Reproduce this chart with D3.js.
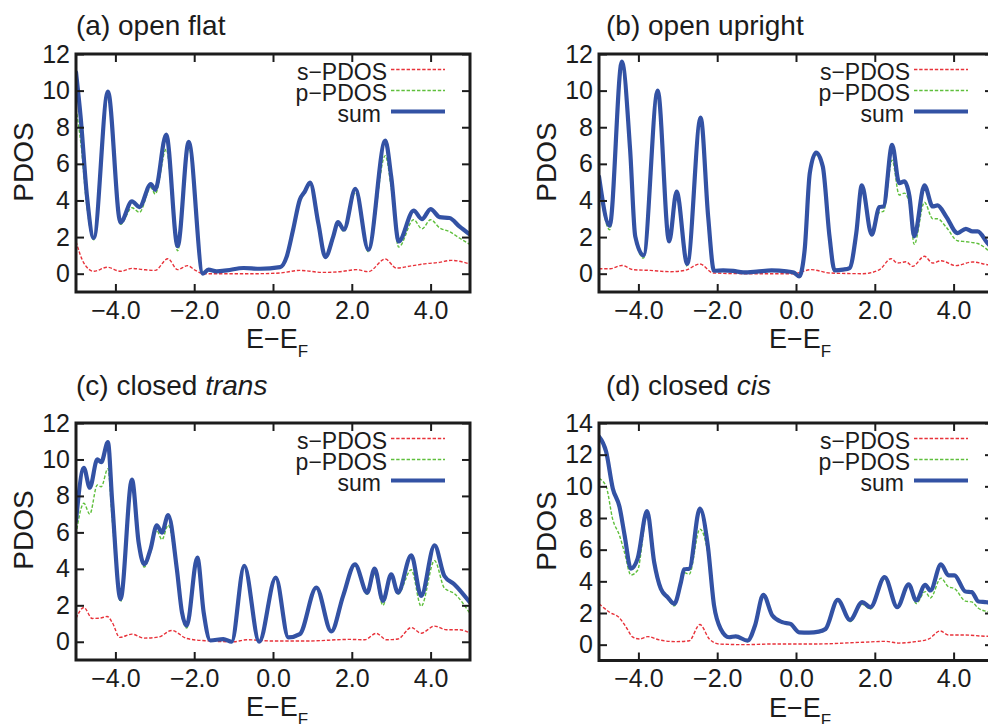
<!DOCTYPE html>
<html><head><meta charset="utf-8">
<script src="https://cdn.jsdelivr.net/npm/d3@7"></script>
<style>
body{margin:0;background:#fff}
svg{display:block}
text{font-family:"Liberation Sans",Arial,Helvetica,sans-serif;fill:#1c1c1c}
</style>
</head><body>
<svg id="chart" width="988" height="724"></svg>
<script>
// ---------- data ----------
const xTicks = [-4, -2, 0, 2, 4];
const yTicks12 = [0, 2, 4, 6, 8, 10, 12];
const yTicks14 = [0, 2, 4, 6, 8, 10, 12, 14];
const seriesNames = ["s\u2212PDOS", "p\u2212PDOS", "sum"];

// (a) open flat
const aE   = [-5.0,-4.88,-4.72,-4.55,-4.19,-3.87,-3.58,-3.39,-3.10,-2.99,-2.71,-2.42,-2.14,-1.78,-1.64,-1.43,-1.17,-0.75,-0.33,0.18,0.35,0.51,0.68,0.81,0.94,1.15,1.33,1.53,1.65,1.80,2.09,2.42,2.85,3.0,3.19,3.57,3.78,4.0,4.23,4.48,4.73,5.0];
const aSum = [11.0,8.5,4.2,1.95,9.95,2.8,3.95,3.64,4.9,4.58,7.6,1.5,7.2,0.0,0.22,0.13,0.18,0.31,0.27,0.36,0.95,2.4,4.04,4.5,4.98,2.76,0.91,2.04,2.82,2.4,4.64,1.31,7.27,5.3,1.76,3.44,2.98,3.53,3.09,3.04,2.58,2.13];
const aP   = [9.0,7.2,3.6,1.85,9.7,2.7,3.6,3.35,4.7,4.35,6.8,1.25,6.9,0.0,0.2,0.12,0.16,0.28,0.25,0.32,0.85,2.25,3.9,4.4,4.85,2.65,0.85,1.95,2.7,2.3,4.45,1.2,6.45,4.7,1.45,2.95,2.45,2.95,2.5,2.3,1.95,1.6];
const aSE  = [-5.0,-4.8,-4.55,-4.21,-3.87,-3.58,-3.28,-2.99,-2.67,-2.42,-2.17,-1.97,-1.76,-1.26,-0.41,0.18,0.68,1.27,1.7,2.12,2.42,2.85,3.13,3.55,3.89,4.23,4.52,5.0];
const aS   = [1.76,0.58,0.13,0.35,0.13,0.29,0.22,0.18,0.82,0.22,0.44,0.18,0.0,0.0,0.0,0.04,0.18,0.07,0.11,0.22,0.11,0.8,0.31,0.44,0.55,0.62,0.73,0.53];

// (b) open upright
const bE   = [-5.0,-4.73,-4.42,-4.21,-4.08,-3.87,-3.51,-3.22,-3.03,-2.76,-2.42,-2.23,-2.08,-1.85,-1.59,-1.34,-1.0,-0.62,-0.24,-0.06,0.08,0.22,0.35,0.51,0.68,0.85,0.98,1.19,1.36,1.53,1.67,1.92,2.12,2.22,2.44,2.62,2.75,2.88,3.0,3.26,3.47,3.59,3.81,4.1,4.31,4.48,4.61,4.86,5.0];
const bSum = [5.3,2.62,11.58,6.76,2.04,1.0,10.0,1.76,4.49,0.53,8.53,3.13,0.16,0.18,0.15,0.07,0.11,0.18,0.13,0.07,-0.15,1.31,5.49,6.62,5.85,2.04,0.18,0.22,0.31,2.22,4.82,2.13,3.64,3.67,7.04,4.95,5.04,4.22,2.04,4.82,3.67,3.73,3.13,2.22,2.45,2.31,2.31,1.67,1.35];
const bP   = [5.0,2.4,11.3,6.6,1.95,0.85,9.8,1.7,4.4,0.4,8.3,3.0,0.14,0.16,0.13,0.06,0.1,0.16,0.11,0.06,-0.15,1.25,5.35,6.5,5.75,2.0,0.16,0.2,0.28,2.1,4.75,2.05,3.35,3.4,6.2,4.3,4.4,3.8,1.6,3.9,3.0,3.0,2.55,1.8,1.75,1.7,1.65,1.3,1.0];
const bSE  = [-5.0,-4.72,-4.42,-4.13,-3.7,-3.2,-2.82,-2.44,-2.1,-1.26,-0.08,0.39,0.85,1.7,2.12,2.41,2.58,2.79,2.96,3.26,3.47,3.68,4.06,4.48,4.86,5.0];
const bS   = [0.27,0.27,0.45,0.22,0.18,0.11,0.18,0.53,0.04,0.0,0.0,0.22,0.04,0.0,0.22,0.82,0.58,0.65,0.4,0.95,0.58,0.71,0.44,0.64,0.49,0.45];

// (c) closed trans
const cE   = [-5.0,-4.8,-4.65,-4.46,-4.36,-4.19,-4.08,-3.87,-3.58,-3.41,-3.27,-3.11,-2.95,-2.82,-2.66,-2.44,-2.31,-2.19,-1.92,-1.76,-1.59,-1.26,-1.05,-0.73,-0.35,0.07,0.39,0.68,1.1,1.48,1.78,2.08,2.39,2.58,2.79,3.0,3.17,3.51,3.76,4.1,4.35,4.6,5.0];
const cSum = [6.62,9.54,8.45,10.0,9.85,10.95,7.63,2.34,8.9,5.44,4.25,5.07,6.39,5.99,6.95,3.98,1.61,0.88,4.62,1.61,0.07,0.15,0.0,4.16,0.0,3.52,0.24,0.42,2.97,0.57,2.52,4.25,2.7,4.01,2.24,3.7,2.7,4.74,2.52,5.29,3.61,3.16,2.15];
const cP   = [5.9,7.6,7.0,8.6,8.5,9.5,6.7,2.2,8.7,5.3,4.1,4.9,6.1,5.6,6.4,3.75,1.4,0.75,4.5,1.55,0.05,0.13,0.0,4.1,0.0,3.48,0.2,0.38,2.93,0.53,2.45,4.15,2.6,3.7,2.0,3.5,2.6,3.95,1.95,4.45,2.95,2.65,1.55];
const cSE  = [-5.0,-4.8,-4.59,-4.38,-4.21,-4.08,-3.89,-3.58,-3.28,-2.9,-2.57,-2.19,-1.68,-1.0,-0.67,0.01,0.85,1.95,2.33,2.62,2.88,3.17,3.51,3.76,4.1,4.4,4.73,5.0];
const cS   = [1.28,1.88,1.28,1.3,1.39,1.06,0.24,0.42,0.2,0.26,0.62,0.18,0.05,0.0,0.11,0.04,0.04,0.13,0.11,0.46,0.11,0.15,0.78,0.47,0.86,0.66,0.66,0.47];

// (d) closed cis
const dE   = [-5.0,-4.82,-4.65,-4.48,-4.35,-4.19,-4.02,-3.78,-3.6,-3.43,-3.26,-3.09,-2.92,-2.84,-2.71,-2.44,-2.24,-2.08,-1.91,-1.7,-1.53,-1.23,-1.04,-0.83,-0.6,-0.35,-0.14,0.08,0.33,0.58,0.75,1.06,1.37,1.68,1.89,2.25,2.57,2.86,3.05,3.28,3.41,3.68,3.87,4.02,4.3,4.46,4.63,4.84,5.0];
const dSum = [13.15,12.2,9.87,8.71,6.91,4.8,5.43,8.44,5.22,3.53,3.0,2.58,3.95,4.76,4.8,8.6,6.28,2.47,0.99,0.47,0.53,0.25,1.21,3.15,1.84,1.42,1.31,0.78,0.76,0.82,0.99,2.83,1.56,2.69,2.37,4.27,2.37,3.81,2.79,3.78,3.42,5.07,4.38,4.38,3.36,3.32,2.73,2.68,2.6];
const dP   = [10.5,10.0,7.9,6.9,5.8,4.4,4.7,8.2,5.0,3.4,2.9,2.45,3.8,4.55,4.45,7.3,5.8,2.3,0.95,0.45,0.5,0.24,1.18,3.1,1.8,1.38,1.27,0.74,0.72,0.77,0.93,2.75,1.45,2.55,2.25,4.15,2.3,3.7,2.6,3.35,2.95,4.2,3.65,3.55,2.75,2.7,2.3,2.1,2.05];
const dSE  = [-5.0,-4.73,-4.48,-4.31,-4.14,-3.97,-3.76,-3.47,-3.05,-2.71,-2.44,-2.2,-1.95,-1.27,-0.68,0.41,1.68,2.27,2.61,3.03,3.37,3.66,3.87,4.3,4.84,5.0];
const dS   = [2.58,2.05,1.69,1.1,0.47,0.36,0.51,0.3,0.19,0.25,1.27,0.36,0.04,0.0,0.04,0.04,0.15,0.21,0.1,0.19,0.36,0.87,0.61,0.61,0.53,0.55];

// ---------- layout / style ----------
const panels = [
  {id:"a", title:"(a) open flat", ital:"", E:aE, sum:aSum, p:aP, sE:aSE, s:aS, yMax:12, yTicks:yTicks12, left:76,  top:54,  bottom:292, titleY:35,  ylabY:162},
  {id:"b", title:"(b) open upright", ital:"", E:bE, sum:bSum, p:bP, sE:bSE, s:bS, yMax:12, yTicks:yTicks12, left:599, top:54,  bottom:292, titleY:35,  ylabY:162},
  {id:"c", title:"(c) closed ", ital:"trans", E:cE, sum:cSum, p:cP, sE:cSE, s:cS, yMax:12, yTicks:yTicks12, left:76,  top:423, bottom:660, titleY:395, ylabY:530},
  {id:"d", title:"(d) closed ", ital:"cis", E:dE, sum:dSum, p:dP, sE:dSE, s:dS, yMax:14, yTicks:yTicks14, left:599, top:423, bottom:660.5, titleY:395, ylabY:531}
];
const W = 394;
const colS = "#e8323a", colP = "#5fbf3c", colSum = "#3352a4";

const svg = d3.select("#chart");
const fmtX = d3.format(".1f");

panels.forEach(pn => {
  const x = d3.scaleLinear().domain([-5, 5]).range([pn.left, pn.left + W]);
  const y = d3.scaleLinear().domain([-1, pn.yMax]).range([pn.bottom, pn.top]);
  const g = svg.append("g");

  g.append("clipPath").attr("id", "clip-" + pn.id)
    .append("rect").attr("x", pn.left).attr("y", pn.top)
    .attr("width", W).attr("height", pn.bottom - pn.top);

  const line = d3.line().x(d => x(d[0])).y(d => y(d[1])).curve(d3.curveMonotoneX);
  const plot = g.append("g").attr("clip-path", "url(#clip-" + pn.id + ")");

  plot.append("path").datum(d3.zip(pn.sE, pn.s)).attr("d", line)
    .attr("fill", "none").attr("stroke", colS).attr("stroke-width", 1.4).attr("stroke-dasharray", "3.4,1.8");
  plot.append("path").datum(d3.zip(pn.E, pn.p)).attr("d", line)
    .attr("fill", "none").attr("stroke", colP).attr("stroke-width", 1.4).attr("stroke-dasharray", "3.4,1.8");
  plot.append("path").datum(d3.zip(pn.E, pn.sum)).attr("d", line)
    .attr("fill", "none").attr("stroke", colSum).attr("stroke-width", 4.2)
    .attr("stroke-linejoin", "round").attr("stroke-linecap", "round");

  // axes (ticks inward, mirrored)
  const tickLen = 8;
  const ax = [
    g.append("g").attr("transform", `translate(0,${pn.bottom})`)
      .call(d3.axisBottom(x).tickValues(xTicks).tickFormat(fmtX).tickSize(-tickLen).tickPadding(9)),
    g.append("g").attr("transform", `translate(0,${pn.top})`)
      .call(d3.axisTop(x).tickValues(xTicks).tickFormat("").tickSize(-tickLen)),
    g.append("g").attr("transform", `translate(${pn.left},0)`)
      .call(d3.axisLeft(y).tickValues(pn.yTicks).tickFormat(d3.format("d")).tickSize(-tickLen).tickPadding(6)),
    g.append("g").attr("transform", `translate(${pn.left + W},0)`)
      .call(d3.axisRight(y).tickValues(pn.yTicks).tickFormat("").tickSize(-tickLen))
  ];
  ax.forEach(a => {
    a.select(".domain").remove();
    a.selectAll(".tick line").attr("stroke", "#1c1c1c").attr("stroke-width", 2);
    a.selectAll(".tick text").attr("font-size", 25).attr("fill", "#1c1c1c")
      .style("font-family", '"Liberation Sans",Arial,sans-serif');
  });

  // frame
  g.append("rect").attr("x", pn.left).attr("y", pn.top)
    .attr("width", W).attr("height", pn.bottom - pn.top)
    .attr("fill", "none").attr("stroke", "#1c1c1c").attr("stroke-width", 3);

  // legend
  const legRows = [
    {name: seriesNames[0], col: colS, w: 1.4, dash: "3.4,1.8", dx: 0},
    {name: seriesNames[1], col: colP, w: 1.4, dash: "3.4,1.8", dx: 0},
    {name: seriesNames[2], col: colSum, w: 4.2, dash: null, dx: -6}
  ];
  legRows.forEach((r, i) => {
    const ly = pn.top + 15.5 + i * 21;
    g.append("text").attr("x", pn.left + 311 + r.dx).attr("y", ly + 10.7)
      .attr("text-anchor", "end").attr("font-size", 23).text(r.name);
    const l = g.append("line").attr("x1", pn.left + 315).attr("x2", pn.left + 369)
      .attr("y1", ly).attr("y2", ly).attr("stroke", r.col).attr("stroke-width", r.w);
    if (r.dash) l.attr("stroke-dasharray", r.dash);
  });

  // title
  const t = g.append("text").attr("x", pn.id === "a" || pn.id === "c" ? 76 : 606)
    .attr("y", pn.titleY).attr("font-size", 28);
  t.append("tspan").text(pn.title);
  if (pn.ital) t.append("tspan").attr("font-style", "italic").text(pn.ital);

  // y label
  g.append("text").attr("transform", `translate(${pn.left - 43},${pn.ylabY}) rotate(-90)`)
    .attr("text-anchor", "middle").attr("font-size", 28).text("PDOS");

  // x label
  const xl = g.append("text").attr("x", pn.left + 170).attr("y", pn.bottom + 56).attr("font-size", 27);
  xl.append("tspan").text("E\u2212E");
  xl.append("tspan").attr("font-size", 17).attr("dy", 9).text("F");
});
</script>
</body></html>
